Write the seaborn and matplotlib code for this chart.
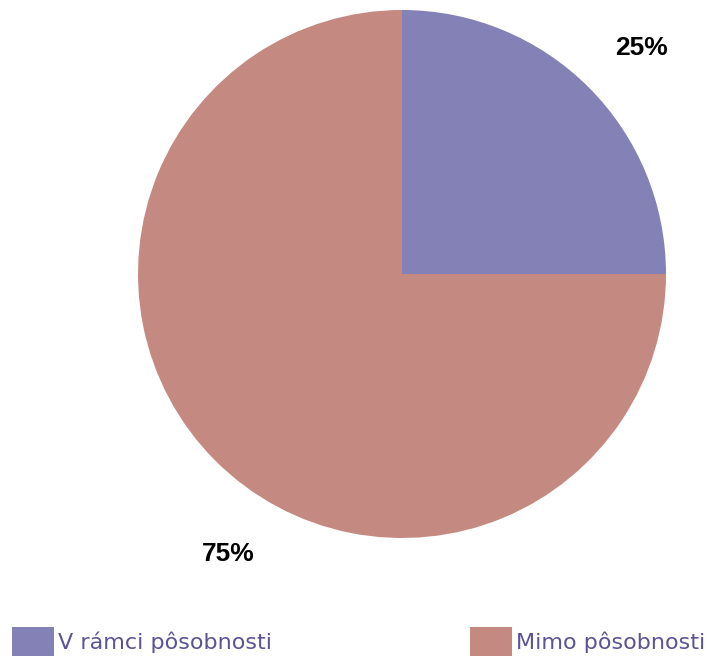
import matplotlib
matplotlib.use("Agg")
import matplotlib.pyplot as plt
import seaborn as sns

# data
kategorie = ["V rámci pôsobnosti", "Mimo pôsobnosti"]
podiely = [25, 75]
farby = ["#8481b6", "#c48a81"]

# poloha percent (v jednotkách polomeru)
pozicie_popisov = [(0.909, 0.856), (-0.659, -1.061)]

sns.set_theme(style="white")
plt.rcParams["font.family"] = ["DejaVu Sans"]

W, H = 708, 657
fig = plt.figure(figsize=(W / 100, H / 100), dpi=100)
cx, cy, r = 402, 274, 264
ax = fig.add_axes([(cx - r) / W, (H - cy - r) / H, 2 * r / W, 2 * r / H])

wedges, texts, autotexts = ax.pie(
    podiely,
    colors=farby,
    startangle=90,
    counterclock=False,
    autopct="%d%%",
    pctdistance=1.25,
    radius=1.0,
    wedgeprops=dict(linewidth=0),
    textprops=dict(family="Liberation Sans", fontsize=19, fontweight="bold", color="black"),
)
for t, pos in zip(autotexts, pozicie_popisov):
    t.set_position(pos)

ax.set_xlim(-1, 1)
ax.set_ylim(-1, 1)
ax.set_aspect("equal")
ax.axis("off")

leg = fig.legend(
    wedges,
    kategorie,
    loc="lower left",
    bbox_to_anchor=(12 / W, 1 / H),
    ncol=2,
    frameon=False,
    fontsize=16,
    handlelength=1.9,
    handleheight=1.65,
    handletextpad=0.18,
    columnspacing=8.9,
    borderpad=0,
    borderaxespad=0,
)
for t in leg.get_texts():
    t.set_color("#5b5394")

fig.savefig("out.png", dpi=100)
